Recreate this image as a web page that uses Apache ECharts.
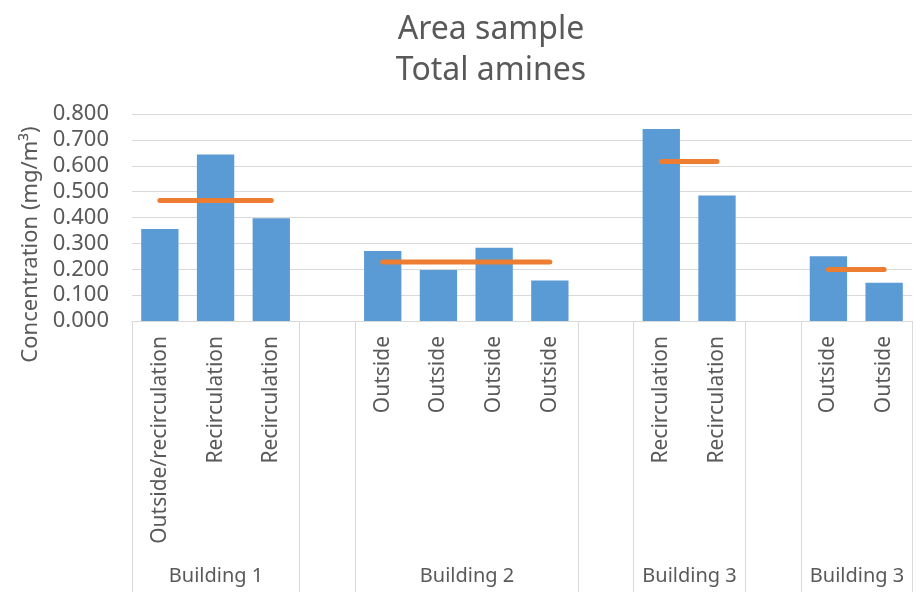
<!DOCTYPE html>
<html>
<head>
<meta charset="utf-8">
<script src="https://cdn.jsdelivr.net/npm/echarts@6/dist/echarts.min.js"></script>
<style>
  html, body { margin: 0; padding: 0; background: #ffffff; }
  #chart { width: 917px; height: 592px; }
</style>
</head>
<body>
<div id="chart"></div>
<script>
// Sampling positions (leaf categories); empty strings are spacer slots between buildings
const categories = [
  'Outside/recirculation', 'Recirculation', 'Recirculation', '',
  'Outside', 'Outside', 'Outside', 'Outside', '',
  'Recirculation', 'Recirculation', '',
  'Outside', 'Outside'
];

// Total amines concentration per sample (mg/m³)
const concentration = [0.356, 0.643, 0.397, null, 0.271, 0.197, 0.283, 0.157, null, 0.742, 0.485, null, 0.250, 0.148];

// Building mean, repeated across each building's samples
const buildingAverage = [0.466, 0.466, 0.466, null, 0.228, 0.228, 0.228, 0.228, null, 0.616, 0.616, null, 0.199, 0.199];

// Outer category level: building groups (first and last leaf index of each)
const groupNames = ['Building 1', '', 'Building 2', '', 'Building 3', '', 'Building 3'];
const groupStart = [0, 3, 4, 8, 9, 11, 12];
const groupEnd   = [2, 3, 7, 8, 10, 11, 13];

// Value axis ticks
const yMin = 0;
const yMax = 0.8;
const yStep = 0.1;

const TEXT = '#595959';
const GRID = '#D9D9D9';
const FONT = '"Noto Sans", "Open Sans", sans-serif';

const groupData = groupStart.map((s, i) => [s, groupEnd[i], 0]);

const chart = echarts.init(document.getElementById('chart'), null, { renderer: 'canvas' });

chart.setOption({
  animation: false,
  backgroundColor: '#ffffff',
  textStyle: { fontFamily: FONT },
  title: {
    text: 'Area sample\nTotal amines',
    left: 486,
    textAlign: 'center',
    top: 4,
    textStyle: {
      fontFamily: FONT,
      fontSize: 32,
      fontWeight: 'normal',
      color: TEXT,
      lineHeight: 41
    }
  },
  grid: { left: 132, right: 5, top: 114, height: 207, containLabel: false },
  xAxis: {
    type: 'category',
    data: categories,
    axisLine: { show: true, lineStyle: { color: GRID, width: 1 } },
    axisTick: { show: false },
    splitLine: { show: false },
    axisLabel: {
      interval: 0,
      rotate: 90,
      margin: 15,
      fontFamily: FONT,
      fontSize: 21,
      color: TEXT
    }
  },
  yAxis: {
    type: 'value',
    min: yMin,
    max: yMax,
    interval: yStep,
    name: 'Concentration (mg/m³)',
    nameLocation: 'middle',
    nameGap: 88,
    nameTextStyle: { fontFamily: FONT, fontSize: 22, color: TEXT, padding: [0, 54, 0, 0] },
    axisLine: { show: false },
    axisTick: { show: false },
    splitLine: { show: true, lineStyle: { color: GRID, width: 1 } },
    axisLabel: {
      margin: 23,
      fontFamily: FONT,
      fontSize: 22,
      color: TEXT,
      formatter: v => v.toFixed(3)
    }
  },
  series: [
    {
      name: 'Concentration',
      type: 'bar',
      data: concentration,
      barCategoryGap: '33%',
      itemStyle: { color: '#5B9BD5' },
      z: 2
    },
    {
      name: 'Building average',
      type: 'line',
      data: buildingAverage,
      connectNulls: false,
      symbol: 'none',
      showSymbol: false,
      lineStyle: { color: '#ED7D31', width: 5, cap: 'round', join: 'round' },
      z: 3
    },
    {
      // Outer level of the category axis: group dividers and building names
      name: 'Buildings',
      type: 'custom',
      silent: true,
      clip: false,
      data: groupData,
      encode: { x: [0, 1], y: 2 },
      renderItem: function (params, api) {
        const i = params.dataIndex;
        const half = api.size([1, 0])[0] / 2;
        const p0 = api.coord([api.value(0), 0]);
        const p1 = api.coord([api.value(1), 0]);
        const left = Math.round(p0[0] - half) + 0.5;
        const right = Math.round(p1[0] + half) + 0.5;
        const top = p0[1];
        const bottom = api.getHeight();
        const stroke = { stroke: GRID, lineWidth: 1 };
        return {
          type: 'group',
          children: [
            { type: 'line', shape: { x1: left, y1: top, x2: left, y2: bottom }, style: stroke },
            { type: 'line', shape: { x1: right, y1: top, x2: right, y2: bottom }, style: stroke },
            {
              type: 'text',
              x: (left + right) / 2,
              y: top + 255,
              style: {
                text: groupNames[i],
                fill: TEXT,
                font: '20px ' + FONT,
                align: 'center',
                verticalAlign: 'middle'
              }
            }
          ]
        };
      },
      z: 1
    }
  ]
});
</script>
</body>
</html>
